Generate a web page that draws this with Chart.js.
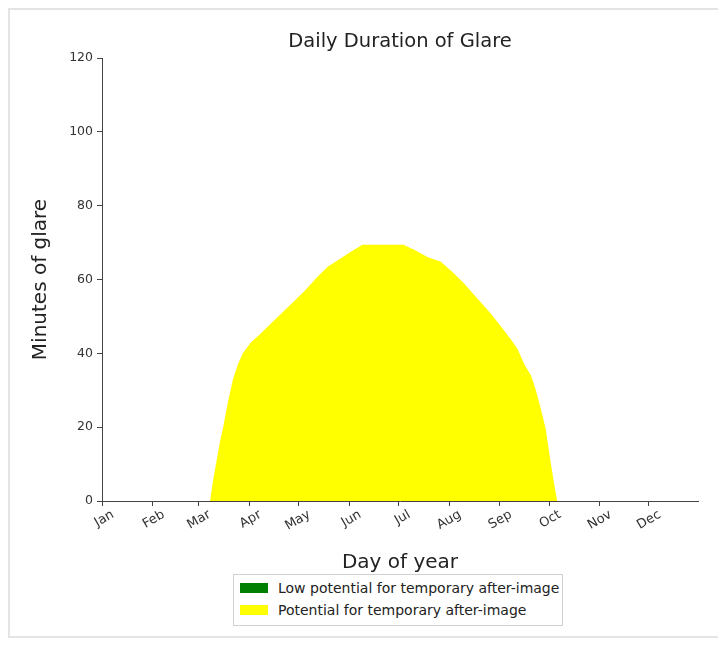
<!DOCTYPE html>
<html>
<head>
<meta charset="utf-8">
<title>Daily Duration of Glare</title>
<script src="https://cdn.jsdelivr.net/npm/chart.js@4.4.1/dist/chart.umd.min.js"></script>
<style>
    html, body { margin: 0; padding: 0; background: #fff; }
    .frame {
        position: absolute; left: 8px; top: 8px; width: 720px; height: 630px;
        border: 2px solid #e4e4e4; box-sizing: border-box;
    }
    #glareCanvas { position: absolute; left: 0; top: 0; }
    .legend {
        position: absolute; left: 233px; top: 574px; width: 330px; height: 52px;
        border: 1px solid #d0d0d0; box-sizing: border-box; background: #fff;
        font-family: "DejaVu Sans", sans-serif; font-size: 14px; color: #222;
        padding: 2px 0 0 6px;
    }
    .legend__item { display: flex; align-items: center; height: 22px; white-space: nowrap; }
    .legend__swatch { width: 28px; height: 10px; margin-right: 10px; flex: none; }
</style>
</head>
<body>
<div class="frame"></div>
<canvas id="glareCanvas" width="718" height="646"></canvas>
<div class="legend" id="glareLegend"></div>

<script>
// Monatsanfaenge (Tag des Jahres) fuer die x-Achse
const monthStartDays = [1, 32, 60, 91, 121, 152, 182, 213, 244, 274, 305, 335];
const monthLabels = ['Jan', 'Feb', 'Mar', 'Apr', 'May', 'Jun', 'Jul', 'Aug', 'Sep', 'Oct', 'Nov', 'Dec'];

// Blendung pro Tag
const glareDays = [67, 69, 71, 73, 75, 78, 81, 84, 87, 92, 97, 104, 111, 118, 125, 132, 139, 146, 153, 160,
    185, 192, 200, 208, 215, 222, 230, 238, 246, 252, 255, 259, 263, 266, 269, 272, 275, 277, 279];
const glareMinutes = [0, 6, 11, 16, 20, 27, 33, 37, 40, 43, 45, 48, 51, 54, 57, 60.5, 63.5, 65.5, 67.5, 69.4,
    69.4, 68, 66, 64.8, 62, 59, 55, 51, 46.5, 43, 41, 37, 34, 30, 25, 19.5, 10.5, 5, 0];

// Reihe ohne Werte (nur in der Legende)
const lowPotentialMinutes = [];

const seriesNames = ['Low potential for temporary after-image', 'Potential for temporary after-image'];
const seriesColors = ['#007f00', '#ffff00'];

const FONT = '"DejaVu Sans", sans-serif';
const AXIS_COLOR = '#444';

const ctx = document.getElementById('glareCanvas').getContext('2d');

const chart = new Chart(ctx, {
    type: 'line',
    data: {
        datasets: [
            {
                label: seriesNames[0],
                data: lowPotentialMinutes,
                borderColor: seriesColors[0],
                backgroundColor: seriesColors[0],
                borderWidth: 0,
                pointRadius: 0,
                fill: 'origin'
            },
            {
                label: seriesNames[1],
                data: glareDays.map((d, i) => ({ x: d, y: glareMinutes[i] })),
                borderColor: seriesColors[1],
                backgroundColor: seriesColors[1],
                borderWidth: 0,
                pointRadius: 0,
                tension: 0,
                fill: 'origin'
            }
        ]
    },
    options: {
        responsive: false,
        animation: false,
        layout: {
            padding: { top: 30, left: 20, right: 20, bottom: 70 }
        },
        plugins: {
            legend: { display: false },
            tooltip: { enabled: false },
            title: {
                display: true,
                fullSize: false,
                text: 'Daily Duration of Glare',
                color: '#222',
                font: { family: FONT, size: 19.5, weight: 'normal' },
                padding: { top: 0, bottom: 4.6 }
            }
        },
        scales: {
            x: {
                type: 'linear',
                min: 1,
                max: 365,
                afterBuildTicks: (axis) => {
                    axis.ticks = monthStartDays.map(v => ({ value: v }));
                },
                afterFit: (scale) => { scale.height = 75; },
                ticks: {
                    autoSkip: false,
                    minRotation: 30,
                    maxRotation: 30,
                    labelOffset: 11,
                    padding: 1,
                    color: '#333',
                    font: { family: FONT, size: 13 },
                    callback: (value, index) => monthLabels[index]
                },
                grid: {
                    drawOnChartArea: false,
                    drawTicks: true,
                    tickLength: 5,
                    color: AXIS_COLOR
                },
                border: { display: true, color: AXIS_COLOR, width: 1 },
                title: {
                    display: true,
                    text: 'Day of year',
                    color: '#222',
                    font: { family: FONT, size: 20 },
                    padding: { top: 0, bottom: 1 }
                }
            },
            y: {
                min: 0,
                max: 120,
                afterFit: (scale) => { scale.width = 82; },
                ticks: {
                    stepSize: 20,
                    padding: 4,
                    color: '#333',
                    font: { family: FONT, size: 12.5 }
                },
                grid: {
                    drawOnChartArea: false,
                    drawTicks: true,
                    tickLength: 5,
                    color: AXIS_COLOR
                },
                border: { display: true, color: AXIS_COLOR, width: 1 },
                title: {
                    display: true,
                    text: 'Minutes of glare',
                    color: '#222',
                    font: { family: FONT, size: 20 },
                    padding: { top: 9, bottom: 0 }
                }
            }
        }
    }
});

// Legende als HTML (zweizeilig wie im Original)
const legendContainer = document.getElementById('glareLegend');
legendContainer.innerHTML = seriesNames.map((name, i) => `
    <div class="legend__item">
        <span class="legend__swatch" style="background: ${seriesColors[i]};"></span>
        <span>${name}</span>
    </div>
`).join('');
</script>
</body>
</html>
